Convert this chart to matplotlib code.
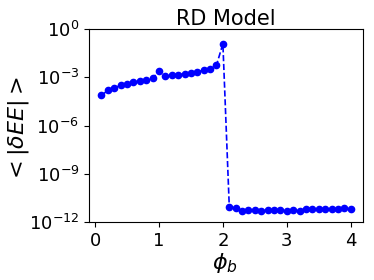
import numpy as np
import matplotlib
matplotlib.use("Agg")
import matplotlib.pyplot as plt

# phi_b values and log10 of <|dEE|>
phi_b = np.round(np.arange(1, 41) * 0.1, 1)
log_dee = [-4.12, -3.81, -3.65, -3.50, -3.40, -3.32, -3.21, -3.15, -3.07, -2.61,
           -2.94, -2.88, -2.84, -2.78, -2.70, -2.65, -2.57, -2.45, -2.24, -0.91,
           -11.05, -11.13, -11.30, -11.28, -11.28, -11.30, -11.26, -11.26, -11.28, -11.30,
           -11.24, -11.30, -11.17, -11.21, -11.19, -11.19, -11.21, -11.21, -11.13, -11.17]
dee = 10.0 ** np.array(log_dee)

fig = plt.figure(figsize=(3.74, 2.8), dpi=100)
ax = fig.add_axes([0.238, 0.207, 0.733, 0.689])

ax.plot(phi_b, dee, 'bo--', markersize=4.5, linewidth=1.2)
ax.set_yscale('log')
ax.set_ylim(1e-12, 1e0)
ax.set_yticks([1e-12, 1e-9, 1e-6, 1e-3, 1e0])
ax.minorticks_off()
ax.set_xticks([0, 1, 2, 3, 4])

ax.tick_params(labelsize=13)
ax.set_title("RD Model", fontsize=15, pad=3)
ax.set_xlabel(r"$\phi_b$", fontsize=16)
ax.set_ylabel(r"$<|\delta EE|>$", fontsize=16)
ax.yaxis.set_label_coords(-0.21, 0.48)
ax.xaxis.set_label_coords(0.496, -0.15)

fig.savefig("out.png", dpi=100)
